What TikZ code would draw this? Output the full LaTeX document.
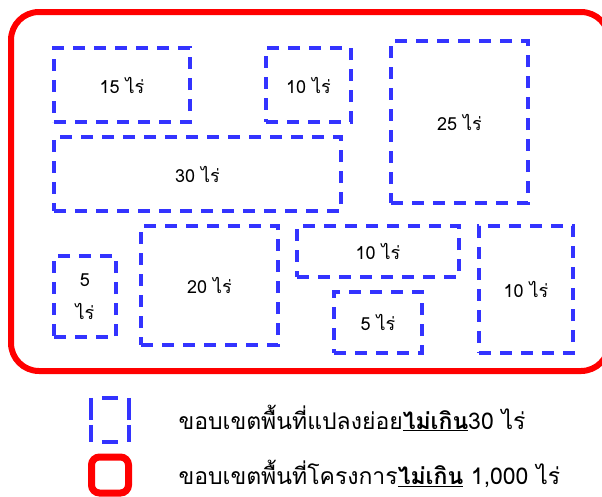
\documentclass[tikz,border=0pt]{standalone}
\usepackage{fontspec}
\setmainfont[Script=Thai]{Loma}
\usepackage{tikz}
\usetikzlibrary{positioning}
\definecolor{plotblue}{RGB}{51,51,255}
\definecolor{siteRed}{RGB}{255,0,0}

\begin{document}
\begin{tikzpicture}[x=1pt,y=-1pt,
  plot/.style={draw=plotblue,line width=4pt,dash pattern=on 12pt off 9pt,
    inner sep=0pt,font=\fontsize{18}{26}\selectfont,align=center},
  site/.style={draw=siteRed,line width=6pt,rounded corners=28pt},
  keydash/.style={draw=plotblue,line width=3.5pt},
  legend/.style={font=\fontsize{23}{28}\selectfont,anchor=west}]
\useasboundingbox (0,0) rectangle (602,496);
\draw[site] (11,12) rectangle (609,371);
% plots
\node[plot,minimum width=136pt,minimum height=74pt] (p15) at (122,85) {15 ไร่};
\node[plot,minimum width=85pt,minimum height=74pt] (p10a) at (308.5,85) {10 ไร่};
\node[plot,minimum width=137pt,minimum height=162pt] (p25) at (459.5,122) {25 ไร่};
\node[plot,minimum width=287pt,minimum height=74pt] (p30) at (197.5,174) {30 ไร่};
\node[plot,minimum width=62pt,minimum height=81pt,font=\fontsize{18}{33}\selectfont] (p5a) at (85,296.5) {5\\ไร่};
\node[plot,minimum width=137pt,minimum height=119pt] (p20) at (209.5,285.5) {20 ไร่};
\node[plot,minimum width=162pt,minimum height=51pt] (p10b) at (378,251.5) {10 ไร่};
\node[plot,minimum width=88pt,minimum height=61pt] (p5b) at (378,322.5) {5 ไร่};
\node[plot,minimum width=94pt,minimum height=127pt] (p10c) at (526,289.5) {10 ไร่};
% legend
\node[minimum width=38pt,minimum height=44pt,inner sep=0pt] (keyplot) at (110,420) {};
\draw[keydash,dash pattern=on 22pt off 5pt] (keyplot.north west) -- (keyplot.south west);
\draw[keydash,dash pattern=on 22pt off 5pt] (keyplot.north east) -- (keyplot.south east);
\draw[keydash,dash pattern=on 0pt off 11pt on 16pt off 11pt] (keyplot.north west) -- (keyplot.north east);
\draw[keydash,dash pattern=on 0pt off 11pt on 16pt off 11pt] (keyplot.south west) -- (keyplot.south east);
\node[draw=siteRed,line width=7pt,rounded corners=8pt,minimum width=37pt,minimum height=36pt] (keysite) at (110,475) {};
\node[legend] (txtplot) at (175,418) {ขอบเขตพื้นที่แปลงย่อย\underline{\bfseries ไม่เกิน}30 ไร่};
\node[legend] (txtsite) at (175,474) {ขอบเขตพื้นที่โครงการ\underline{\bfseries ไม่เกิน} 1,000 ไร่};
\end{tikzpicture}
\end{document}
